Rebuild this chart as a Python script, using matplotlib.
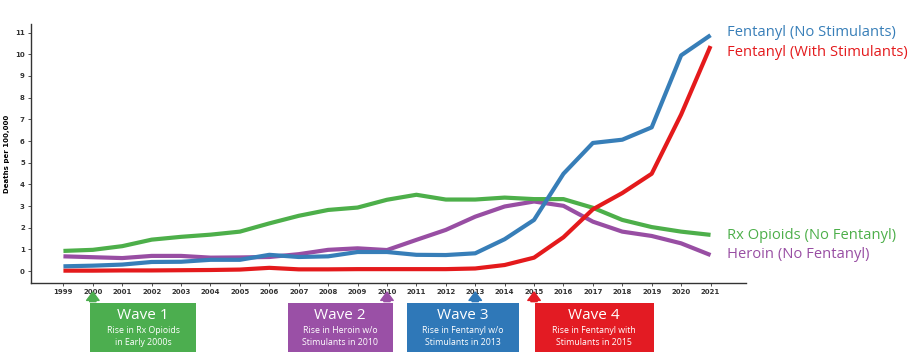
import matplotlib
matplotlib.use("Agg")
import matplotlib.pyplot as plt
import matplotlib.transforms as mtransforms
from matplotlib.patches import Rectangle

years = list(range(1999, 2022))

fent_no_stim = [0.22, 0.25, 0.3, 0.42, 0.43, 0.52, 0.52, 0.75, 0.65, 0.68, 0.88, 0.88,
                0.75, 0.74, 0.82, 1.47, 2.36, 4.49, 5.91, 6.06, 6.63, 9.95, 10.88]
fent_stim = [0.02, 0.02, 0.03, 0.03, 0.04, 0.05, 0.07, 0.15, 0.08, 0.08, 0.09, 0.09,
             0.09, 0.09, 0.12, 0.28, 0.62, 1.56, 2.85, 3.6, 4.49, 7.22, 10.38]
rx_opioids = [0.93, 0.98, 1.15, 1.45, 1.58, 1.68, 1.82, 2.2, 2.55, 2.82, 2.93, 3.29,
              3.52, 3.3, 3.3, 3.39, 3.32, 3.32, 2.92, 2.36, 2.03, 1.82, 1.67]
heroin = [0.68, 0.64, 0.6, 0.7, 0.7, 0.62, 0.63, 0.65, 0.78, 0.98, 1.05, 0.97,
          1.44, 1.9, 2.51, 2.98, 3.21, 3.01, 2.28, 1.82, 1.62, 1.28, 0.74]

series = [
    ("Heroin (No Fentanyl)", heroin, "#984ea3"),
    ("Rx Opioids (No Fentanyl)", rx_opioids, "#4daf4a"),
    ("Fentanyl (With Stimulants)", fent_stim, "#e41a1c"),
    ("Fentanyl (No Stimulants)", fent_no_stim, "#377eb8"),
]

# label y positions (data units) for the right-hand labels
label_y = {"Fentanyl (No Stimulants)": 11.0, "Fentanyl (With Stimulants)": 10.1,
           "Rx Opioids (No Fentanyl)": 1.65, "Heroin (No Fentanyl)": 0.75}

wave_years = [2000, 2010, 2013, 2015]
wave_titles = ["Wave 1", "Wave 2", "Wave 3", "Wave 4"]
wave_texts = ["Rise in Rx Opioids\nin Early 2000s",
              "Rise in Heroin w/o\nStimulants in 2010",
              "Rise in Fentanyl w/o\nStimulants in 2013",
              "Rise in Fentanyl with\nStimulants in 2015"]
wave_colors = ["#4cae4f", "#9a50a6", "#2f78b8", "#e31b23"]
# box left/right edges in years
wave_boxes = [(1999.92, 2003.5), (2006.62, 2010.2), (2010.67, 2014.5), (2015.02, 2019.07)]

fig = plt.figure(figsize=(9.14, 3.52), dpi=100)
ax = fig.add_axes([0.034, 0.196, 0.782, 0.736])

for name, vals, col in series:
    ax.plot(years, vals, color=col, lw=3.0, solid_joinstyle="round", solid_capstyle="butt")
    ax.text(2021.55, label_y[name], name, color=col, fontsize=10.6, family="Open Sans",
            va="center", ha="left", clip_on=False)

ax.set_xlim(1997.9, 2022.2)
ax.set_ylim(-0.55, 11.4)
ax.set_xticks(years)
ax.set_yticks(range(0, 12))
ax.tick_params(axis="both", labelsize=5, length=2.5, width=0.6, color="#333333", pad=2)
for lab in ax.get_xticklabels() + ax.get_yticklabels():
    lab.set_fontweight("bold")
    lab.set_color("#333333")
ax.set_ylabel("Deaths per 100,000", fontsize=5, fontweight="bold", labelpad=4)
for s in ["top", "right"]:
    ax.spines[s].set_visible(False)
for s in ["left", "bottom"]:
    ax.spines[s].set_linewidth(1.0)
    ax.spines[s].set_color("#333333")

trans = mtransforms.blended_transform_factory(ax.transData, ax.transAxes)
box_top, box_bot = -0.077, -0.27
for yr, title, txt, col, (x0, x1) in zip(wave_years, wave_titles, wave_texts, wave_colors, wave_boxes):
    ax.add_patch(Rectangle((x0, box_bot), x1 - x0, box_top - box_bot, transform=trans,
                           facecolor=col, edgecolor="none", clip_on=False))
    ax.annotate("", xy=(yr, -0.035), xytext=(yr, box_top + 0.005), xycoords=trans,
                textcoords=trans,
                arrowprops=dict(arrowstyle="simple,head_length=0.6,head_width=0.9,tail_width=0.45",
                                color=col, shrinkA=0, shrinkB=0))
    cx = (x0 + x1) / 2
    ax.text(cx, -0.127, title, transform=trans, ha="center", va="center", color="white",
            fontsize=11, family="Open Sans")
    ax.text(cx, -0.207, txt, transform=trans, ha="center", va="center", color="white",
            fontsize=6.3, family="Open Sans", linespacing=1.5)

fig.savefig("out.png", dpi=100)
